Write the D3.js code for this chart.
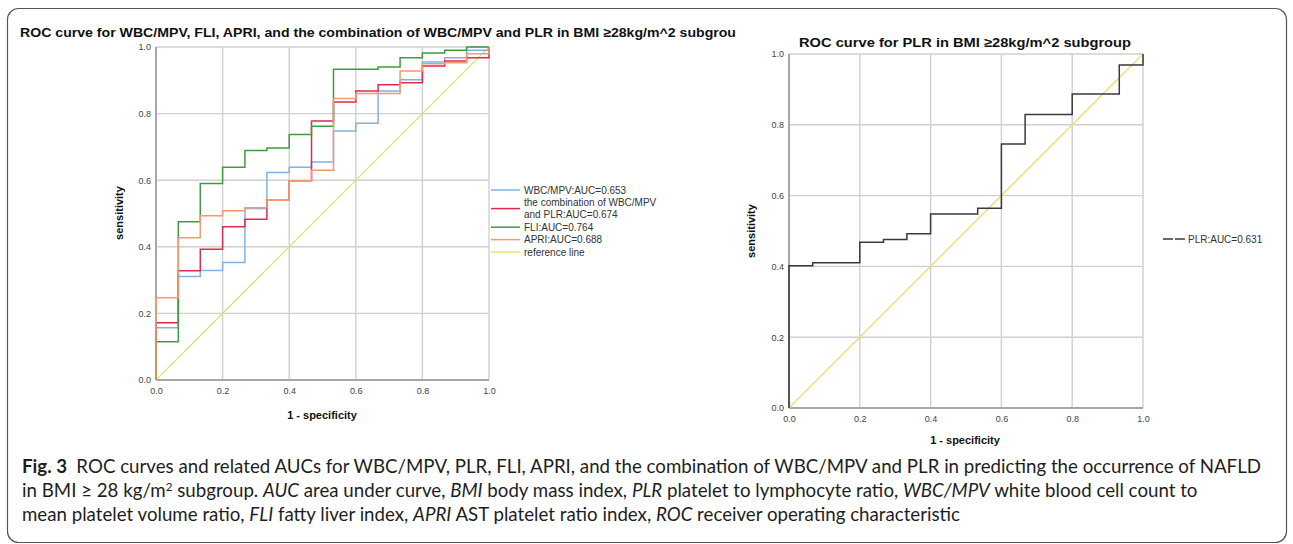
<html>
<script src="https://d3js.org/d3.v7.min.js"></script>
<style>
    body { margin: 0; background: #fff; }
</style>

<body>
    <script>
        var width = 1293;
        var height = 544;

        // shared false positive rate steps (1 - specificity)
        var fpr = [0, 0.067, 0.133, 0.2, 0.267, 0.333, 0.4, 0.467, 0.533, 0.6, 0.667, 0.733, 0.8, 0.867, 0.933, 1.0];

        // sensitivity after each step
        var wbcMpv = [0.157, 0.311, 0.329, 0.353, 0.515, 0.623, 0.639, 0.655, 0.748, 0.771, 0.868, 0.902, 0.955, 0.968, 0.99, 1.0];
        var combo = [0.172, 0.328, 0.393, 0.46, 0.483, 0.54, 0.598, 0.778, 0.835, 0.868, 0.887, 0.893, 0.943, 0.958, 0.968, 0.968];
        var fli = [0.115, 0.475, 0.59, 0.639, 0.689, 0.697, 0.737, 0.762, 0.933, 0.933, 0.94, 0.968, 0.982, 0.99, 1.0, 1.0];
        var apri = [0.247, 0.427, 0.493, 0.508, 0.517, 0.54, 0.598, 0.63, 0.845, 0.86, 0.86, 0.928, 0.95, 0.953, 0.98, 1.0];
        var plr = [0.402, 0.41, 0.41, 0.468, 0.476, 0.492, 0.548, 0.548, 0.564, 0.746, 0.829, 0.829, 0.887, 0.887, 0.969, 1.0];

        var ticks = [0, 0.2, 0.4, 0.6, 0.8, 1.0];

        var leftSeries = [
            { name: "WBC/MPV:AUC=0.653", values: wbcMpv, color: "#7fb2e5" },
            { name: "the combination of WBC/MPV|and PLR:AUC=0.674", values: combo, color: "#e02a50" },
            { name: "FLI:AUC=0.764", values: fli, color: "#3f9b3f" },
            { name: "APRI:AUC=0.688", values: apri, color: "#f5996e" }
        ];
        var refColor = "#e6e070";

        var svg = d3.select("body").append("svg")
            .attr("width", width)
            .attr("height", height)
            .attr("font-family", "Liberation Sans, Arial, sans-serif");

        // outer frame
        svg.append("rect")
            .attr("x", 7.5).attr("y", 8.5)
            .attr("width", 1279).attr("height", 534)
            .attr("rx", 11)
            .attr("fill", "none")
            .attr("stroke", "#555")
            .attr("stroke-width", 1.2);

        function drawPlot(x0, x1, y0, y1) {
            var x = d3.scaleLinear().domain([0, 1]).range([x0, x1]);
            var y = d3.scaleLinear().domain([0, 1]).range([y0, y1]);
            var g = svg.append("g");

            ticks.slice(1).forEach(t => {
                g.append("line").attr("x1", x(t)).attr("x2", x(t)).attr("y1", y(0)).attr("y2", y(1))
                    .attr("stroke", "#d0d0d0").attr("stroke-width", 1.4);
                g.append("line").attr("x1", x(0)).attr("x2", x(1)).attr("y1", y(t)).attr("y2", y(t))
                    .attr("stroke", "#d0d0d0").attr("stroke-width", 1.4);
            });

            var ax = g.append("g").attr("transform", `translate(0,${y0})`)
                .call(d3.axisBottom(x).tickValues(ticks).tickFormat(d3.format(".1f")).tickSize(0).tickPadding(8));
            var ay = g.append("g").attr("transform", `translate(${x0},0)`)
                .call(d3.axisLeft(y).tickValues(ticks).tickFormat(d3.format(".1f")).tickSize(0).tickPadding(5));
            [ax, ay].forEach(a => {
                a.select(".domain").remove();
                a.selectAll("text").attr("font-size", 9).attr("fill", "#444")
                    .attr("font-family", "Liberation Sans, Arial, sans-serif");
            });

            g.append("line").attr("x1", x(0)).attr("x2", x(1)).attr("y1", y(0)).attr("y2", y(0))
                .attr("stroke", "#a6a6a6").attr("stroke-width", 2);
            g.append("line").attr("x1", x(0)).attr("x2", x(0)).attr("y1", y(0)).attr("y2", y(1))
                .attr("stroke", "#a6a6a6").attr("stroke-width", 2);

            return { g: g, x: x, y: y };
        }

        function rocPath(p, values, color) {
            var pts = [[0, 0]].concat(fpr.map((f, i) => [f, values[i]])).concat([[1, 1]]);
            var line = d3.line().x(d => p.x(d[0])).y(d => p.y(d[1])).curve(d3.curveStepAfter);
            p.g.append("path")
                .attr("d", line(pts))
                .attr("fill", "none")
                .attr("stroke", color)
                .attr("stroke-width", 1.5);
        }

        function refLine(p) {
            p.g.append("line")
                .attr("x1", p.x(0)).attr("y1", p.y(0))
                .attr("x2", p.x(1)).attr("y2", p.y(1))
                .attr("stroke", refColor).attr("stroke-width", 1.3);
        }

        // left chart
        var left = drawPlot(156, 489, 380, 47);
        refLine(left);
        leftSeries.forEach(s => rocPath(left, s.values, s.color));

        svg.append("text").attr("x", 20).attr("y", 37)
            .attr("font-size", 13).attr("font-weight", "bold").attr("fill", "#111")
            .attr("textLength", 716).attr("lengthAdjust", "spacingAndGlyphs")
            .text("ROC curve for WBC/MPV, FLI, APRI, and the combination of WBC/MPV and PLR in BMI \u226528kg/m^2 subgrou");

        svg.append("text").attr("transform", "translate(123,213) rotate(-90)")
            .attr("text-anchor", "middle").attr("font-size", 11).attr("font-weight", "bold").attr("fill", "#111")
            .text("sensitivity");
        svg.append("text").attr("x", 322).attr("y", 419)
            .attr("text-anchor", "middle").attr("font-size", 11).attr("font-weight", "bold").attr("fill", "#111")
            .text("1 - specificity");

        // left legend
        var legItems = [];
        var ly = 190;
        leftSeries.forEach(s => {
            var parts = s.name.split("|");
            legItems.push({ lines: parts, color: s.color, y: ly });
            ly += 12.4 * parts.length;
        });
        legItems.push({ lines: ["reference line"], color: refColor, y: ly });
        legItems.forEach(it => {
            var mid = it.y + (it.lines.length - 1) * 6.2;
            svg.append("line").attr("x1", 491).attr("x2", 520).attr("y1", mid).attr("y2", mid)
                .attr("stroke", it.color).attr("stroke-width", 1.5);
            it.lines.forEach((t, i) => {
                svg.append("text").attr("x", 524).attr("y", it.y + i * 12.4 + 3.5)
                    .attr("font-size", 10).attr("fill", "#333").text(t);
            });
        });

        // right chart
        var right = drawPlot(789, 1143, 408, 54);
        refLine(right);
        rocPath(right, plr, "#3a3a3a");

        svg.append("text").attr("x", 965).attr("y", 47)
            .attr("text-anchor", "middle")
            .attr("font-size", 13).attr("font-weight", "bold").attr("fill", "#111")
            .attr("textLength", 332).attr("lengthAdjust", "spacingAndGlyphs")
            .text("ROC curve for PLR in BMI \u226528kg/m^2 subgroup");
        svg.append("text").attr("transform", "translate(755,231) rotate(-90)")
            .attr("text-anchor", "middle").attr("font-size", 11).attr("font-weight", "bold").attr("fill", "#111")
            .text("sensitivity");
        svg.append("text").attr("x", 965).attr("y", 444)
            .attr("text-anchor", "middle").attr("font-size", 11).attr("font-weight", "bold").attr("fill", "#111")
            .text("1 - specificity");

        svg.append("line").attr("x1", 1163).attr("x2", 1186).attr("y1", 239).attr("y2", 239)
            .attr("stroke", "#3a3a3a").attr("stroke-width", 1.5).attr("stroke-dasharray", "10,2");
        svg.append("text").attr("x", 1188).attr("y", 242.5)
            .attr("font-size", 10).attr("fill", "#333").text("PLR:AUC=0.631");

        // caption
        var cap = [
            [["Fig. 3", "b"], ["\u2002ROC curves and related AUCs for WBC/MPV, PLR, FLI, APRI, and the combination of WBC/MPV and PLR in predicting the occurrence of NAFLD", ""]],
            [["in BMI \u2265 28 kg/m", ""], ["2", "sup"], [" subgroup. ", ""], ["AUC", "i"], [" area under curve, ", ""], ["BMI", "i"], [" body mass index, ", ""], ["PLR", "i"], [" platelet to lymphocyte ratio, ", ""], ["WBC/MPV", "i"], [" white blood cell count to", ""]],
            [["mean platelet volume ratio, ", ""], ["FLI", "i"], [" fatty liver index, ", ""], ["APRI", "i"], [" AST platelet ratio index, ", ""], ["ROC", "i"], [" receiver operating characteristic", ""]]
        ];
        var capFont = 16;
        var capTexts = cap.map((parts, i) => {
            var t = svg.append("text").attr("x", 22).attr("y", 473 + i * 24)
                .attr("font-size", capFont).attr("fill", "#1e1e1e")
                .attr("font-family", "Lato, Open Sans, sans-serif");
            var prevSup = false;
            parts.forEach(p => {
                var s = t.append("tspan").text(p[0]);
                if (p[1] == "b") s.attr("font-weight", "bold");
                if (p[1] == "i") s.attr("font-style", "italic");
                if (p[1] == "sup") s.attr("font-size", capFont * 0.62).attr("dy", -6);
                if (prevSup) s.attr("dy", 6);
                prevSup = p[1] == "sup";
            });
            return t;
        });
        // scale caption font so the first line spans the same width as in the figure
        var w0 = capTexts[0].node().getComputedTextLength();
        var k = 1240 / w0;
        capTexts.forEach(t => {
            t.attr("font-size", capFont * k);
            t.selectAll("tspan").filter(function () { return d3.select(this).attr("font-size"); })
                .attr("font-size", capFont * 0.62 * k);
        });
    </script>
</body>

</html>
